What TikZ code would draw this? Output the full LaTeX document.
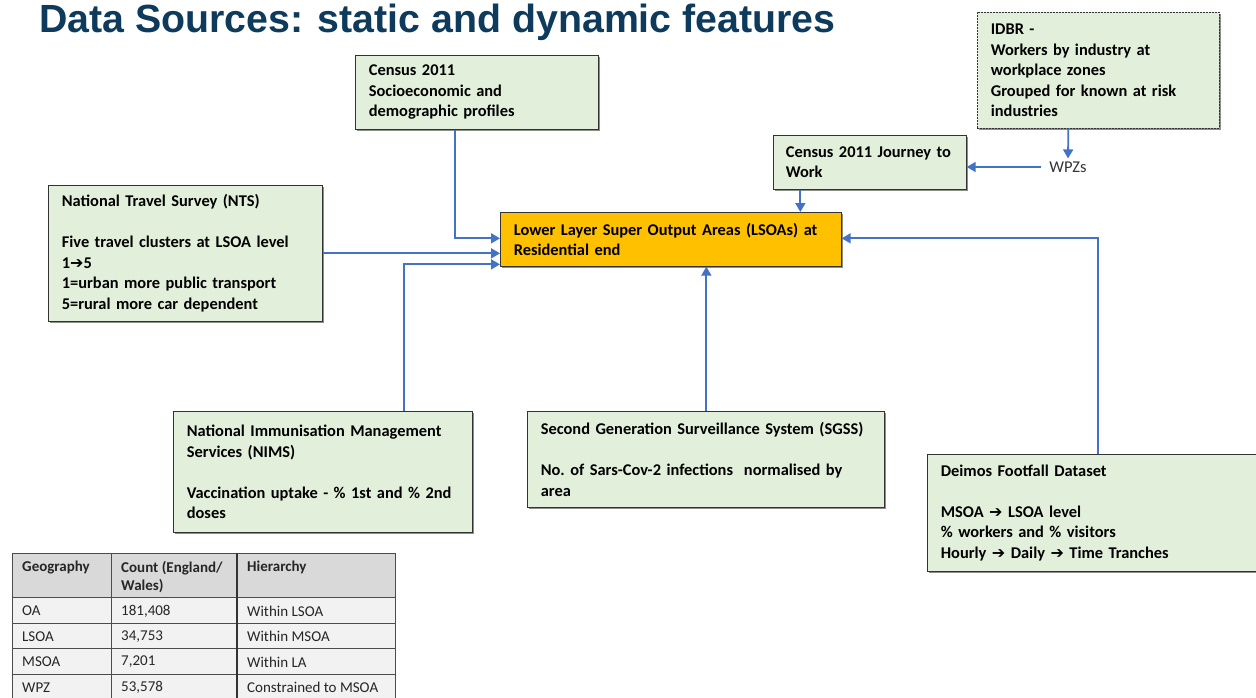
\documentclass[tikz,border=0pt]{standalone}
\usepackage{fontspec}
\setmainfont{Carlito}
\newfontfamily\titlefont{Liberation Sans}
\newfontfamily\arrowfont{DejaVu Sans}
\usetikzlibrary{arrows.meta,shadows,positioning}
\definecolor{srcgreen}{HTML}{E2EFDA}
\definecolor{lsoaorange}{HTML}{FFC000}
\definecolor{linkblue}{HTML}{4472C4}
\definecolor{titleblue}{HTML}{0E3A5B}
\definecolor{headgrey}{HTML}{D9D9D9}
\definecolor{rowgrey}{HTML}{F2F2F2}
\newcommand\boxfont{\fontsize{16.4}{20.5}\selectfont\bfseries\frenchspacing}
\newcommand\tablefont{\fontsize{15}{18}\selectfont}
\newcommand\rarr{{\arrowfont\fontsize{16}{16}\selectfont\symbol{"2794}}}

\begin{document}
\begin{tikzpicture}[x=1pt,y=-1pt,
  srcbox/.style={draw=black!80,line width=0.7pt,fill=srcgreen,anchor=north west,align=left,
    inner xsep=13.5pt,inner ysep=3pt,font=\boxfont,
    general shadow={fill=black!45,shadow xshift=1.3pt,shadow yshift=-1.3pt}},
  link/.style={draw=linkblue,line width=1.8pt,-{Triangle[length=9pt,width=10pt]}},
  cell/.style={draw=black!70,line width=0.6pt,anchor=north west,inner sep=0pt},
  celltext/.style={inner sep=0pt,font=\tablefont,text=black!85}]
\useasboundingbox (0,0) rectangle (1256,698);

\node[anchor=base west,inner sep=0pt,text=titleblue,font=\titlefont\bfseries\fontsize{39.3}{44}\selectfont]
  (title) at (39,33) {Data Sources: static and dynamic features};

% sources round the LSOA box
\node[srcbox,text width=216pt,minimum height=74pt] (census) at (355,55)
  {Census 2011\\Socioeconomic and\\demographic profiles};
\node[srcbox,text width=215pt,minimum height=116pt,dash pattern=on 2pt off 1pt] (idbr) at (977,12)
  {IDBR -\\Workers by industry at\\workplace zones\\Grouped for known at risk\\industries};
\node[srcbox,text width=174pt,inner xsep=9.5pt,minimum height=54pt] (jtw) at (773,135)
  {\hspace*{3pt}Census 2011 Journey to\\\hspace*{3pt}Work};
\node[srcbox,text width=247pt,minimum height=136pt] (nts) at (48,185)
  {National Travel Survey (NTS)\\[20.5pt]Five travel clusters at LSOA level\\1\rarr5\\1=urban more public transport\\5=rural more car dependent};
\node[srcbox,text width=314pt,minimum height=54pt,fill=lsoaorange] (lsoa) at (500,212)
  {Lower Layer Super Output Areas (LSOAs) at\\Residential end};
\node[srcbox,text width=272pt,minimum height=121pt] (nims) at (173,411)
  {National Immunisation Management\\Services (NIMS)\\[20.5pt]Vaccination uptake - \% 1st and \% 2nd\\doses};
\node[srcbox,text width=330pt,minimum height=96pt] (sgss) at (527,411)
  {Second Generation Surveillance System (SGSS)\\[20.5pt]No. of Sars-Cov-2 infections~ normalised by\\area};
\node[srcbox,text width=308pt,minimum height=117pt] (deimos) at (927,454)
  {Deimos Footfall Dataset\\[20.5pt]MSOA \rarr{} LSOA level\\\% workers and \% visitors\\Hourly \rarr{} Daily \rarr{} Time Tranches};
\node[inner sep=0pt,text=black!80,font=\fontsize{16.5}{18}\selectfont] (wpz) at (1068,167) {WPZs};

\draw[link] ([xshift=-21.5pt]census.south) |- ([yshift=1pt]lsoa.west);
\draw[link] (nts.east) -- (nts.east -| lsoa.west);
\draw[link] ([xshift=81.5pt]nims.north) |- ([yshift=-25pt]lsoa.west);
\draw[link] ([xshift=0.5pt]sgss.north) -- ([xshift=0.5pt]sgss.north |- lsoa.south);
\draw[link] ([xshift=3.5pt]deimos.north) |- ([yshift=1pt]lsoa.east);
\draw[link] ([xshift=-69.5pt]jtw.south) -- ([xshift=-69.5pt]jtw.south |- lsoa.north);
\draw[link] ([xshift=-30pt]idbr.south) -- ([yshift=3pt]wpz.north);
\draw[link] ([xshift=-8pt]wpz.west) -- (wpz.west -| jtw.east);

% geography table
\node[cell,fill=headgrey,minimum width=99pt,minimum height=44pt] (hd1) at (12,553) {};
\node[cell,fill=headgrey,minimum width=126pt,minimum height=44pt] (hd2) at (111,553) {};
\node[cell,fill=headgrey,minimum width=158pt,minimum height=44pt] (hd3) at (237,553) {};
\node[celltext,anchor=north west,font=\tablefont\bfseries] at ([shift={(10,8)}]hd1.north west) {Geography};
\node[celltext,anchor=north west,align=left,font=\tablefont\bfseries] at ([shift={(10,8)}]hd2.north west) {Count (England/\\Wales)};
\node[celltext,anchor=north west,font=\tablefont\bfseries] at ([shift={(10,8)}]hd3.north west) {Hierarchy};
\foreach \g/\n/\h [count=\i] in {OA/{181,408}/Within LSOA,LSOA/{34,753}/Within MSOA,
    MSOA/{7,201}/Within LA,WPZ/{53,578}/Constrained to MSOA}{
  \pgfmathsetmacro\ry{597+25.5*(\i-1)}
  \node[cell,fill=rowgrey,minimum width=99pt,minimum height=25.5pt] (g\i) at (12,\ry) {};
  \node[cell,fill=rowgrey,minimum width=126pt,minimum height=25.5pt] (n\i) at (111,\ry) {};
  \node[cell,fill=rowgrey,minimum width=158pt,minimum height=25.5pt] (h\i) at (237,\ry) {};
  \node[celltext,anchor=west] at ([shift={(10,1)}]g\i.west) {\g};
  \node[celltext,anchor=west] at ([shift={(10,1)}]n\i.west) {\n};
  \node[celltext,anchor=west] at ([shift={(10,1)}]h\i.west) {\h};
}
\draw[black!80,line width=1.8pt] (hd3.north west) -- (h4.south west);
\end{tikzpicture}
\end{document}
